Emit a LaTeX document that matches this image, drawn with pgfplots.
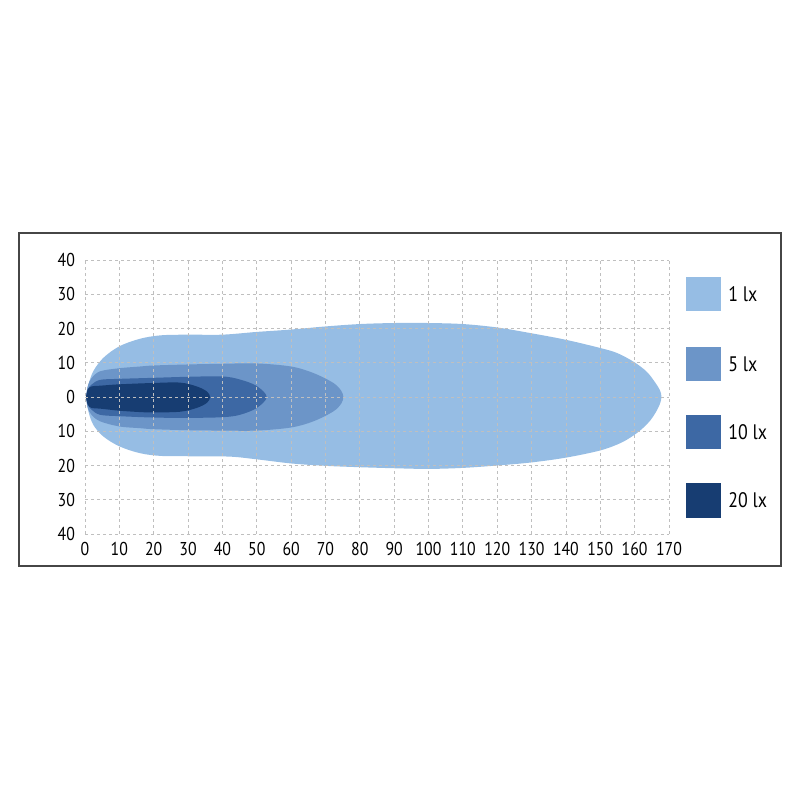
\documentclass[border=0pt]{standalone}
\usepackage{pgfplots}
\pgfplotsset{compat=1.18}
\usepackage{fontspec}
\setmainfont{PT Sans}[FakeStretch=0.85]
\definecolor{cA}{RGB}{150,189,228}
\definecolor{cB}{RGB}{108,149,200}
\definecolor{cC}{RGB}{61,104,164}
\definecolor{cD}{RGB}{23,61,114}
\definecolor{frame}{RGB}{70,70,70}
\begin{document}
\begin{tikzpicture}[x=1pt,y=1pt]
\path (0,0) rectangle (400,400);
\draw[frame,line width=0.6pt] (9.5,117) rectangle (390.5,283.5);
\begin{axis}[
  at={(42.5pt,133pt)}, anchor=south west,
  width=292pt, height=137pt, scale only axis,
  xmin=0, xmax=170, ymin=-40, ymax=40,
  xtick={0,10,...,170},
  ytick={-40,-30,...,40},
  yticklabels={40,30,20,10,0,10,20,30,40},
  axis line style={draw=none},
  major tick length=0pt,
  grid=major,
  major grid style={gray!50, line width=0.4pt, dash pattern=on 1.7pt off 1.3pt},
  axis on top,
  font=\fontsize{9.3}{11}\selectfont,
  /pgf/number format/assume math mode=true,
  xticklabel style={yshift=-0.5pt},
  yticklabel style={xshift=-1.5pt},
]
\addplot[fill=cA, draw=none, smooth, tension=0.55] coordinates {
(0.3,0) (1.0,3.6) (2.4,7.5) (5.3,11.4) (10,14.8) (16,17.0) (22,18.0) (30,18.2) (40,18.2) (50,19.0) (60,19.7) (70,20.6) (80,21.3) (90,21.6) (100,21.6) (110,21.3) (120,20.3) (130,18.6) (140,16.7) (150,14.3) (155,12.8) (160,10.1) (163.6,7.3) (166.0,4.2) (167.4,1.9) (167.8,0) (167.4,-1.9) (166.2,-4.4) (164.6,-6.8) (162.6,-8.9) (160,-11.0) (156,-13.4) (150,-15.6) (140,-17.7) (130,-19.1) (120,-20.0) (110,-20.7) (100,-21.0) (90,-20.8) (80,-20.5) (70,-20.1) (60,-19.4) (50,-18.2) (42,-17.4) (30,-17.3) (22,-17.2) (16,-16.4) (10,-14.4) (5.3,-11.5) (2.4,-8.1) (1.0,-4.2) (0.3,0)
};
\addplot[fill=cB, draw=none, smooth, tension=0.55] coordinates {
(0.3,0) (0.8,3.2) (1.9,5.5) (4.4,7.5) (10,8.4) (16,8.9) (20,9.2) (30,9.5) (40,9.7) (50,9.8) (60,8.9) (66.5,7.0) (72.3,4.1) (74.6,1.8) (75.2,0) (74.6,-1.9) (72.3,-4.2) (66.5,-7.1) (60,-8.9) (50,-9.8) (40,-9.8) (30,-9.7) (20,-9.4) (16,-9.1) (10,-8.6) (4.4,-7.1) (1.9,-5.2) (0.8,-3.2) (0.3,0)
};
\addplot[fill=cC, draw=none, smooth, tension=0.55] coordinates {
(0.3,0) (0.8,2.2) (1.9,3.6) (4.4,5.0) (10,5.3) (20,5.6) (30,5.9) (40,6.0) (45.1,5.1) (50,3.2) (52.9,0) (50,-3.2) (45.1,-5.2) (40,-5.9) (30,-6.1) (20,-6.0) (10,-5.6) (4.4,-5.2) (1.9,-3.7) (0.8,-2.2) (0.3,0)
};
\addplot[fill=cD, draw=none, smooth, tension=0.55] coordinates {
(0.3,0) (0.8,2.2) (1.9,3.1) (4.4,3.3) (10,3.7) (20,4.1) (27.7,4.2) (32.5,3.1) (35.5,1.6) (36.4,0) (35.5,-1.7) (32.5,-3.2) (27.7,-4.3) (20,-4.5) (16,-4.4) (10,-4.0) (4.4,-3.4) (1.9,-3.2) (0.8,-2.2) (0.3,0)
};
\end{axis}
% legend
\fill[cA] (343,261.5) rectangle (360.5,244.5);
\fill[cB] (343,226.5) rectangle (360.5,209.5);
\fill[cC] (343,192.5) rectangle (360.5,175.5);
\fill[cD] (343,158.5) rectangle (360.5,141);
\begin{scope}[font=\fontsize{10.5}{12}\selectfont]
\node[anchor=west,inner sep=0pt] at (364,253) {1 lx};
\node[anchor=west,inner sep=0pt] at (364,218) {5 lx};
\node[anchor=west,inner sep=0pt] at (364,184) {10 lx};
\node[anchor=west,inner sep=0pt] at (364,150) {20 lx};
\end{scope}
\end{tikzpicture}
\end{document}
